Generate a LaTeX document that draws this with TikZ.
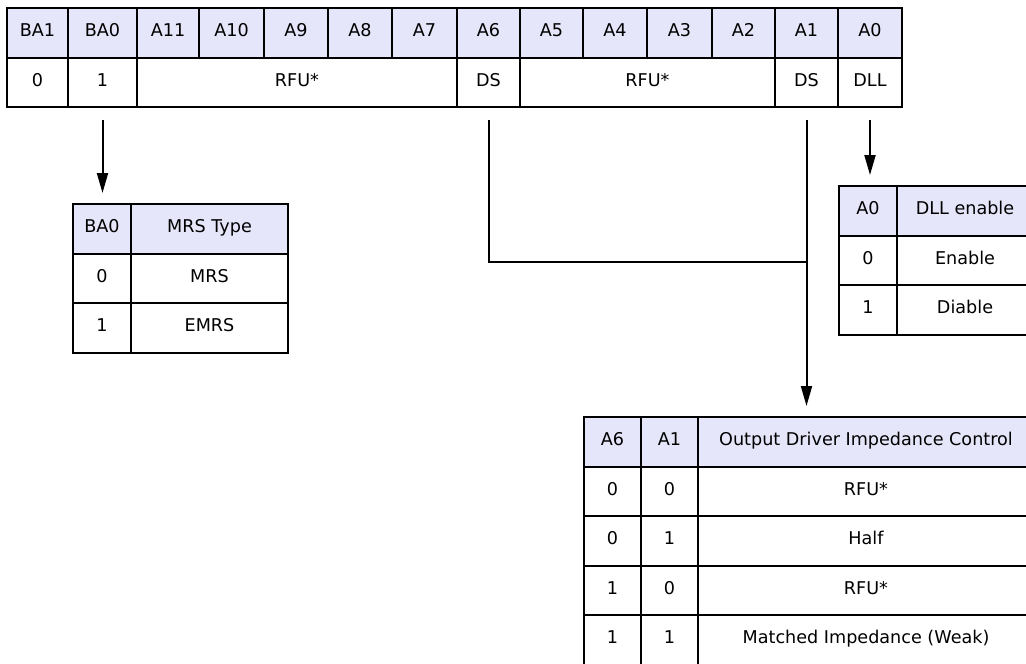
\documentclass[tikz,border=0pt]{standalone}
\usepackage{fontspec}
\setmainfont{DejaVu Sans}
\usetikzlibrary{positioning,arrows.meta}
\definecolor{hdrblue}{RGB}{230,230,250}
\tikzstyle{hd} = [rectangle, draw, fill=hdrblue, minimum height=49.5pt,
    inner sep=0pt, outer sep=0pt, text height=1.45ex, text depth=0pt, text centered]
\tikzstyle{vl} = [rectangle, draw, minimum height=49.5pt,
    inner sep=0pt, outer sep=0pt, text height=1.45ex, text depth=0pt, text centered]
\tikzstyle{arr} = [-{Triangle[length=20pt,width=11pt]}, shorten <=13pt, shorten >=11pt]

\begin{document}
\begin{tikzpicture}[x=1pt,y=-1pt,line width=2pt,font=\fontsize{17.6}{21}\selectfont]
  \useasboundingbox (0,0) rectangle (1026,664);
  \clip (0,0) rectangle (1026,664);

  % register
  \node[hd,minimum width=61pt,anchor=north west] (hBA1) at (7,8) {BA1};
  \node[hd,minimum width=69pt,right=0pt of hBA1] (hBA0) {BA0};
  \node[hd,minimum width=62pt,right=0pt of hBA0] (hA11) {A11};
  \node[hd,minimum width=65pt,right=0pt of hA11] (hA10) {A10};
  \node[hd,minimum width=64pt,right=0pt of hA10] (hA9) {A9};
  \node[hd,minimum width=64pt,right=0pt of hA9] (hA8) {A8};
  \node[hd,minimum width=65pt,right=0pt of hA8] (hA7) {A7};
  \node[hd,minimum width=63pt,right=0pt of hA7] (hA6) {A6};
  \node[hd,minimum width=63pt,right=0pt of hA6] (hA5) {A5};
  \node[hd,minimum width=64pt,right=0pt of hA5] (hA4) {A4};
  \node[hd,minimum width=65pt,right=0pt of hA4] (hA3) {A3};
  \node[hd,minimum width=63pt,right=0pt of hA3] (hA2) {A2};
  \node[hd,minimum width=63pt,right=0pt of hA2] (hA1) {A1};
  \node[hd,minimum width=64pt,right=0pt of hA1] (hA0) {A0};

  \node[vl,minimum width=61pt,below=0pt of hBA1] (v0) {0};
  \node[vl,minimum width=69pt,right=0pt of v0] (v1) {1};
  \node[vl,minimum width=320pt,right=0pt of v1] (rfuA) {RFU*};
  \node[vl,minimum width=63pt,right=0pt of rfuA] (ds6) {DS};
  \node[vl,minimum width=255pt,right=0pt of ds6] (rfuB) {RFU*};
  \node[vl,minimum width=63pt,right=0pt of rfuB] (ds1) {DS};
  \node[vl,minimum width=64pt,right=0pt of ds1] (dll) {DLL};

  % MRS type
  \node[hd,minimum width=58pt,anchor=north west] (mBA0) at (73,204) {BA0};
  \node[hd,minimum width=157pt,right=0pt of mBA0] (mType) {MRS Type};
  \node[vl,minimum width=58pt,below=0pt of mBA0] (m0) {0};
  \node[vl,minimum width=157pt,right=0pt of m0] (m0t) {MRS};
  \node[vl,minimum width=58pt,below=0pt of m0] (m1) {1};
  \node[vl,minimum width=157pt,right=0pt of m1] (m1t) {EMRS};

  % DLL enable
  \node[hd,minimum width=58pt,anchor=north west] (dA0) at (839,186) {A0};
  \node[hd,minimum width=136pt,right=0pt of dA0] (dEn) {DLL enable};
  \node[vl,minimum width=58pt,below=0pt of dA0] (d0) {0};
  \node[vl,minimum width=136pt,right=0pt of d0] (d0t) {Enable};
  \node[vl,minimum width=58pt,below=0pt of d0] (d1) {1};
  \node[vl,minimum width=136pt,right=0pt of d1] (d1t) {Diable};

  % drive strength
  \begin{scope}[every node/.append style={minimum height=50pt}]
  \node[hd,minimum width=57pt,anchor=north west] (oA6) at (584,417) {A6};
  \node[hd,minimum width=57pt,right=0pt of oA6] (oA1) {A1};
  \node[hd,minimum width=336pt,right=0pt of oA1] (oCtl) {Output Driver Impedance Control};
  \node[vl,minimum width=57pt,below=0pt of oA6] (o00a) {0};
  \node[vl,minimum width=57pt,right=0pt of o00a] (o00b) {0};
  \node[vl,minimum width=336pt,right=0pt of o00b] (o00t) {RFU*};
  \node[vl,minimum width=57pt,below=0pt of o00a] (o01a) {0};
  \node[vl,minimum width=57pt,right=0pt of o01a] (o01b) {1};
  \node[vl,minimum width=336pt,right=0pt of o01b] (o01t) {Half};
  \node[vl,minimum width=57pt,below=0pt of o01a] (o10a) {1};
  \node[vl,minimum width=57pt,right=0pt of o10a] (o10b) {0};
  \node[vl,minimum width=336pt,right=0pt of o10b] (o10t) {RFU*};
  \node[vl,minimum width=57pt,below=0pt of o10a] (o11a) {1};
  \node[vl,minimum width=57pt,right=0pt of o11a] (o11b) {1};
  \node[vl,minimum width=336pt,right=0pt of o11b] (o11t) {Matched Impedance (Weak)};
  \end{scope}

  \draw[arr] (v1.south) -- (v1.south |- mBA0.north);
  \draw[arr] (dll.south) -- (dll.south |- dA0.north);
  \coordinate (join) at (ds1.south |- 0,262);
  \draw[shorten <=13pt] (ds6.south) |- (join);
  \draw[arr] (ds1.south) -- (ds1.south |- oA6.north);
\end{tikzpicture}
\end{document}
